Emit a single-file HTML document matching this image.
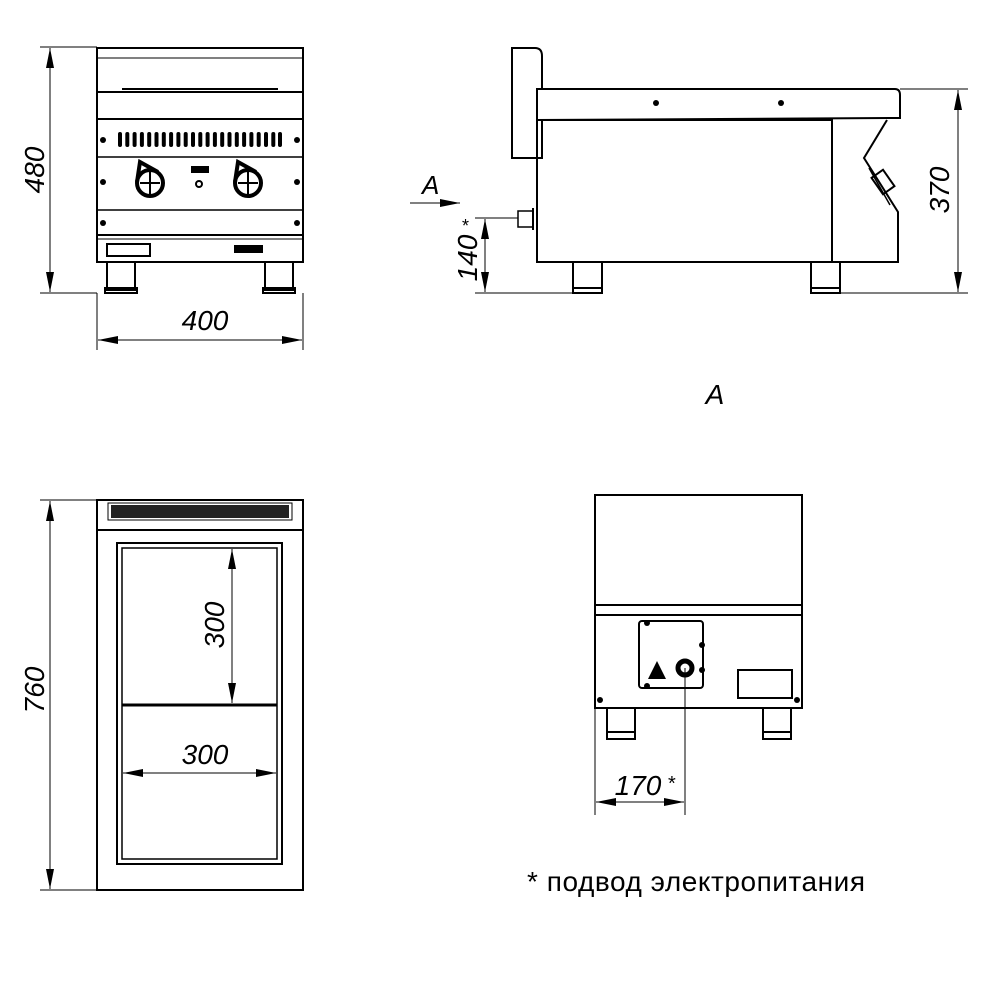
<!DOCTYPE html>
<html><head><meta charset="utf-8"><style>html,body{margin:0;padding:0;background:#fff}svg{display:block}</style></head>
<body>
<svg width="1000" height="1000" viewBox="0 0 1000 1000" xmlns="http://www.w3.org/2000/svg" font-family="Liberation Sans, DejaVu Sans, sans-serif">
<defs>
<marker id="ab" viewBox="0 0 20 8" refX="20" refY="4" markerWidth="20" markerHeight="8" orient="auto-start-reverse" markerUnits="userSpaceOnUse"><path d="M0,0 L20,4 L0,8 z" fill="#000"/></marker>
</defs>
<g fill="none" stroke="#000" stroke-width="2">
<!-- FRONT VIEW -->
<rect x="97" y="48" width="206" height="71"/>
<line x1="97" y1="58" x2="303" y2="58" stroke-width="1"/>
<line x1="122" y1="89" x2="278" y2="89"/>
<line x1="97" y1="92" x2="303" y2="92"/>
<rect x="97" y="119" width="206" height="116"/>
<line x1="97" y1="157" x2="303" y2="157" stroke-width="1.5"/>
<line x1="97" y1="210" x2="303" y2="210" stroke-width="1.5"/>
<rect x="97" y="235" width="206" height="27"/>
<line x1="97" y1="239" x2="303" y2="239" stroke-width="1"/>
<rect x="107" y="244" width="43" height="12"/>
<rect x="235" y="246" width="27" height="6" fill="#000"/>
<rect x="107" y="262" width="28" height="28"/><rect x="105" y="288" width="32" height="5"/>
<rect x="265" y="262" width="28" height="28"/><rect x="263" y="288" width="32" height="5"/>
<g stroke-width="1">
<line x1="97" y1="293" x2="40" y2="293"/><line x1="97" y1="47" x2="40" y2="47"/>
<line x1="97" y1="293" x2="97" y2="350"/><line x1="303" y1="293" x2="303" y2="350"/>
<line x1="50" y1="48" x2="50" y2="292" marker-start="url(#ab)" marker-end="url(#ab)"/>
<line x1="98" y1="340" x2="302" y2="340" marker-start="url(#ab)" marker-end="url(#ab)"/>
</g>
<!-- knobs -->
<g stroke-width="4">
<circle cx="150" cy="183" r="13"/><circle cx="248" cy="183" r="13"/>
<path d="M137,182 L140,162 L158,172"/><path d="M235,182 L238,162 L256,172"/>
</g>
<g stroke-width="2"><line x1="150" y1="172" x2="150" y2="194"/><line x1="140" y1="183" x2="160" y2="183"/>
<line x1="248" y1="172" x2="248" y2="194"/><line x1="238" y1="183" x2="258" y2="183"/></g>
<rect x="192" y="167" width="16" height="5" fill="#000"/>
<circle cx="199" cy="184" r="3"/>

<!-- SIDE VIEW -->
<path d="M512,158 L512,48 L535,48 Q542,48 542,56 L542,158 Z"/>
<path d="M537,89 L895,89 Q900,89 900,95 L900,118 L537,120 Z" fill="#fff"/>
<rect x="537" y="120" width="295" height="142"/>
<path d="M887,120 L864,158 L898,212 L898,262 L832,262"/>
<path d="M869,168 L890,205" stroke-width="1.5"/>
<rect x="876" y="172" width="14" height="20" transform="rotate(-35 883 182)"/>
<rect x="573" y="262" width="29" height="26"/><rect x="573" y="288" width="29" height="5"/>
<rect x="811" y="262" width="29" height="26"/><rect x="811" y="288" width="29" height="5"/>
<rect x="518" y="211" width="15" height="16" stroke-width="1.5"/>
<line x1="533" y1="208" x2="533" y2="230"/>
<g stroke-width="1">
<line x1="900" y1="89" x2="968" y2="89"/><line x1="840" y1="293" x2="968" y2="293"/>
<line x1="958" y1="90" x2="958" y2="292" marker-start="url(#ab)" marker-end="url(#ab)"/>
<line x1="475" y1="218" x2="518" y2="218"/><line x1="475" y1="293" x2="573" y2="293"/>
<line x1="485" y1="219" x2="485" y2="292" marker-start="url(#ab)" marker-end="url(#ab)"/>
<line x1="410" y1="203" x2="460" y2="203" marker-end="url(#ab)"/>
</g>

<!-- TOP VIEW -->
<rect x="97" y="500" width="206" height="390"/>
<line x1="97" y1="530" x2="303" y2="530"/>
<rect x="108" y="503" width="184" height="17" stroke-width="1"/>
<rect x="117" y="543" width="165" height="321"/>
<rect x="122" y="548" width="155" height="311" stroke-width="1.5"/>
<line x1="122" y1="705" x2="277" y2="705" stroke-width="3"/>
<g stroke-width="1">
<line x1="40" y1="500" x2="97" y2="500"/><line x1="40" y1="890" x2="97" y2="890"/>
<line x1="50" y1="501" x2="50" y2="889" marker-start="url(#ab)" marker-end="url(#ab)"/>
<line x1="232" y1="549" x2="232" y2="703" marker-start="url(#ab)" marker-end="url(#ab)"/>
<line x1="123" y1="773" x2="276" y2="773" marker-start="url(#ab)" marker-end="url(#ab)"/>
</g>

<!-- BACK VIEW A -->
<rect x="595" y="495" width="207" height="213"/>
<line x1="595" y1="605" x2="802" y2="605"/>
<line x1="595" y1="615" x2="802" y2="615"/>
<rect x="639" y="621" width="64" height="67" rx="3"/>
<circle cx="685" cy="668" r="7" stroke-width="5"/>
<rect x="738" y="670" width="54" height="28"/>
<rect x="607" y="708" width="28" height="24"/><rect x="607" y="732" width="28" height="7"/>
<rect x="763" y="708" width="28" height="24"/><rect x="763" y="732" width="28" height="7"/>
<g stroke-width="1">
<line x1="685" y1="668" x2="685" y2="815"/><line x1="595" y1="690" x2="595" y2="815"/>
<line x1="596" y1="802" x2="684" y2="802" marker-start="url(#ab)" marker-end="url(#ab)"/>
</g>
</g>
<g fill="#000">
<rect x="118" y="132" width="4" height="15" rx="2"/><rect x="125.3" y="132" width="4" height="15" rx="2"/><rect x="132.6" y="132" width="4" height="15" rx="2"/><rect x="139.9" y="132" width="4" height="15" rx="2"/><rect x="147.2" y="132" width="4" height="15" rx="2"/><rect x="154.5" y="132" width="4" height="15" rx="2"/><rect x="161.8" y="132" width="4" height="15" rx="2"/><rect x="169.1" y="132" width="4" height="15" rx="2"/><rect x="176.4" y="132" width="4" height="15" rx="2"/><rect x="183.7" y="132" width="4" height="15" rx="2"/><rect x="191" y="132" width="4" height="15" rx="2"/><rect x="198.3" y="132" width="4" height="15" rx="2"/><rect x="205.6" y="132" width="4" height="15" rx="2"/><rect x="212.9" y="132" width="4" height="15" rx="2"/><rect x="220.2" y="132" width="4" height="15" rx="2"/><rect x="227.5" y="132" width="4" height="15" rx="2"/><rect x="234.8" y="132" width="4" height="15" rx="2"/><rect x="242.1" y="132" width="4" height="15" rx="2"/><rect x="249.4" y="132" width="4" height="15" rx="2"/><rect x="256.7" y="132" width="4" height="15" rx="2"/><rect x="264" y="132" width="4" height="15" rx="2"/><rect x="271.3" y="132" width="4" height="15" rx="2"/><rect x="278" y="132" width="4" height="15" rx="2"/>
<circle cx="103" cy="140" r="3"/><circle cx="297" cy="140" r="3"/>
<circle cx="103" cy="182" r="3"/><circle cx="297" cy="182" r="3"/>
<circle cx="103" cy="223" r="3"/><circle cx="297" cy="223" r="3"/>
<circle cx="656" cy="103" r="3"/><circle cx="781" cy="103" r="3"/>
<rect x="111" y="505" width="178" height="13" fill="#222"/>
<circle cx="647" cy="623" r="3"/><circle cx="702" cy="645" r="3"/><circle cx="702" cy="670" r="3"/><circle cx="647" cy="686" r="3"/>
<circle cx="600" cy="700" r="3"/><circle cx="797" cy="700" r="3"/>
<path d="M657,661 L666,679 L648,679 Z"/>
</g>
<g font-style="italic" font-size="28" fill="#000">
<text x="0" y="0" transform="translate(44,170) rotate(-90)" text-anchor="middle">480</text>
<text x="205" y="330" text-anchor="middle">400</text>
<text x="0" y="0" transform="translate(949,190) rotate(-90)" text-anchor="middle">370</text>
<text x="0" y="0" transform="translate(477,258) rotate(-90)" text-anchor="middle">140</text>
<text x="462" y="232" font-size="18" font-style="normal">*</text>
<text x="422" y="194" font-size="26">A</text>
<text x="715" y="404" font-size="28" text-anchor="middle">A</text>
<text x="0" y="0" transform="translate(44,690) rotate(-90)" text-anchor="middle">760</text>
<text x="0" y="0" transform="translate(224,625) rotate(-90)" text-anchor="middle">300</text>
<text x="205" y="764" text-anchor="middle">300</text>
<text x="638" y="795" text-anchor="middle">170</text>
<text x="668" y="790" font-size="20" font-style="normal">*</text>
</g>
<text x="527" y="891" font-size="28" fill="#000" textLength="338">* подвод электропитания</text>
</svg>
</body></html>
